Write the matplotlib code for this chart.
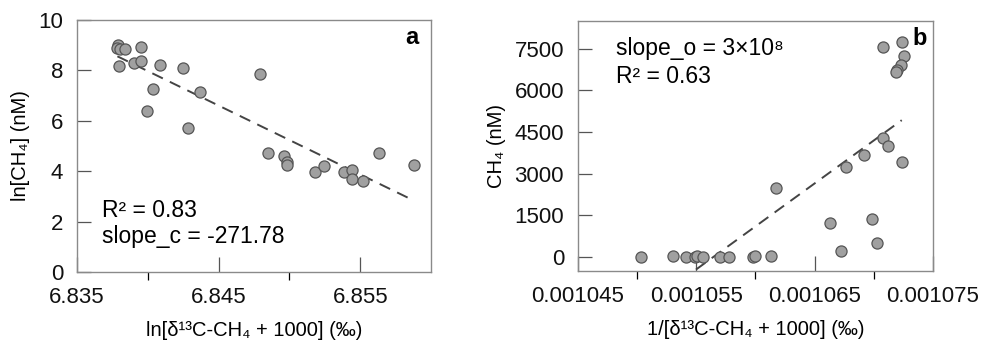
import matplotlib
matplotlib.use('Agg')
import matplotlib.pyplot as plt
from matplotlib.ticker import FixedLocator

plt.rcParams['font.family'] = ['Liberation Sans', 'DejaVu Sans']

# panel a: ln[d13C-CH4 + 1000] vs ln[CH4]
xa = [6.83789, 6.83782, 6.83806, 6.83840, 6.83950, 6.83794, 6.83902, 6.83952, 6.84089,
      6.84249, 6.84037, 6.84368, 6.83997, 6.84285, 6.84795, 6.84847, 6.84965, 6.84982,
      6.84984, 6.85177, 6.85244, 6.85382, 6.85440, 6.85442, 6.85522, 6.85633, 6.85883]
ya = [9.00, 8.87, 8.83, 8.83, 8.93, 8.16, 8.30, 8.36, 8.20,
      8.10, 7.26, 7.16, 6.39, 5.72, 7.85, 4.71, 4.62, 4.36,
      4.24, 3.97, 4.19, 3.97, 4.05, 3.71, 3.62, 4.71, 4.24]
fit_a_x = [6.83785, 6.85862]
fit_a_y = [8.56, 2.88]

# panel b: 1/[d13C-CH4 + 1000] vs CH4
xb = [0.00107075, 0.00107238, 0.00107255, 0.00107230, 0.00107198, 0.00107185,
      0.00107075, 0.00107120, 0.00106917, 0.00106762, 0.00107238, 0.00106176,
      0.00106630, 0.00106985, 0.00106720, 0.00107027,
      0.00105032, 0.00105300, 0.00105410, 0.00105493, 0.00105510, 0.00105559,
      0.00105700, 0.00105779, 0.00105976, 0.00105998, 0.00106129]
yb = [7582, 7761, 7249, 6926, 6747, 6650,
      4285, 3999, 3690, 3261, 3433, 2494,
      1229, 1372, 236, 523,
      15, 47, 5, 10, 30, 15,
      15, 15, 15, 36, 47]
fit_b_x = [0.00105497, 0.00107236]
fit_b_y = [-450, 4930]

fig = plt.figure(figsize=(9.9, 3.51), dpi=100)
ax1 = fig.add_axes([0.0778, 0.225, 0.3576, 0.718])
ax2 = fig.add_axes([0.5838, 0.228, 0.3586, 0.712])

edge = '#8a8a8a'
for ax in (ax1, ax2):
    for s in ax.spines.values():
        s.set_color(edge)
        s.set_linewidth(1.0)
    ax.tick_params(direction='in', colors='#555555', labelcolor='#111111', labelsize=16)
    ax.tick_params(axis='y', length=10, width=0.9, pad=10)
    ax.tick_params(axis='x', which='major', length=11, width=0.9, pad=11)
    ax.tick_params(axis='x', which='minor', length=6, width=0.9)

# a
ax1.scatter(xa, ya, s=64, c='#a0a0a0', edgecolors='#555555', linewidths=0.9, zorder=3)
ax1.plot(fit_a_x, fit_a_y, color='#444444', lw=1.4, dashes=(6, 4), zorder=2)
ax1.set_xlim(6.835, 6.860)
ax1.set_ylim(0, 10)
ax1.set_xticks([6.835, 6.845, 6.855])
ax1.set_xticklabels(['6.835', '6.845', '6.855'])
ax1.xaxis.set_minor_locator(FixedLocator([6.840, 6.850]))
ax1.set_yticks([0, 2, 4, 6, 8, 10])
ax1.set_xlabel('ln[δ¹³C-CH₄ + 1000] (‰)', fontsize=14.5, labelpad=9)
ax1.set_ylabel('ln[CH₄] (nM)', fontsize=14.5, labelpad=6)
ax1.text(0.070, 0.246, 'R² = 0.83', transform=ax1.transAxes, fontsize=16.5, va='center')
ax1.text(0.070, 0.139, 'slope_c = -271.78', transform=ax1.transAxes, fontsize=16.5, va='center')
ax1.text(0.946, 0.932, 'a', transform=ax1.transAxes, fontsize=17, fontweight='bold',
         ha='center', va='center')

# b
ax2.scatter(xb, yb, s=64, c='#a0a0a0', edgecolors='#555555', linewidths=0.9, zorder=3)
ax2.plot(fit_b_x, fit_b_y, color='#444444', lw=1.4, dashes=(6, 4), zorder=2)
ax2.set_xlim(0.001045, 0.001075)
ax2.set_ylim(-500, 8500)
ax2.set_xticks([0.001045, 0.001055, 0.001065, 0.001075])
ax2.set_xticklabels(['0.001045', '0.001055', '0.001065', '0.001075'])
ax2.xaxis.set_minor_locator(FixedLocator([0.00105, 0.00106, 0.00107]))
ax2.set_yticks([0, 1500, 3000, 4500, 6000, 7500])
ax2.set_xlabel('1/[δ¹³C-CH₄ + 1000] (‰)', fontsize=14.5, labelpad=9)
ax2.set_ylabel('CH₄ (nM)', fontsize=14.5, labelpad=6)
ax2.text(0.107, 0.892, 'slope_o = 3×10⁸', transform=ax2.transAxes, fontsize=16.5, va='center')
ax2.text(0.107, 0.780, 'R² = 0.63', transform=ax2.transAxes, fontsize=16.5, va='center')
ax2.text(0.963, 0.932, 'b', transform=ax2.transAxes, fontsize=17, fontweight='bold',
         ha='center', va='center')

fig.savefig('out.png', dpi=100)
